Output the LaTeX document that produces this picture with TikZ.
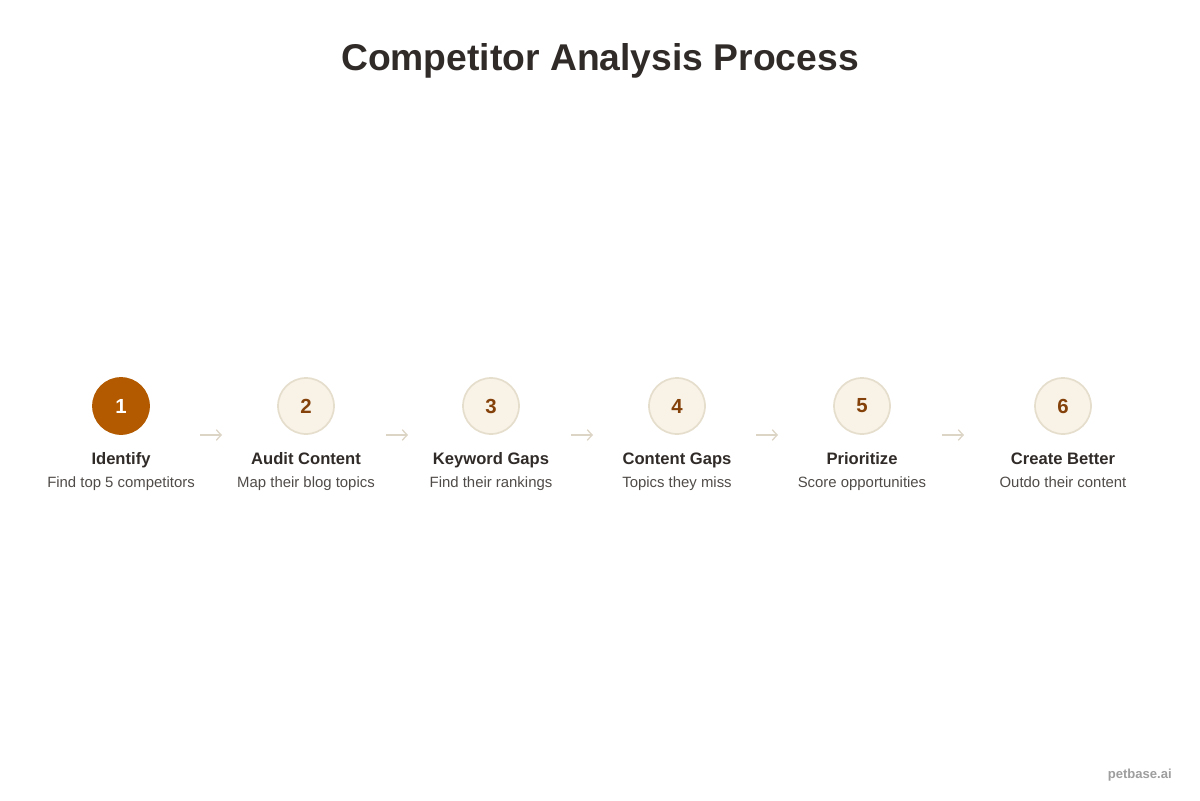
\documentclass[tikz,border=0pt]{standalone}
\usepackage{fontspec}
\setmainfont{Liberation Sans}
\usetikzlibrary{calc,arrows.meta}
\definecolor{ink}{HTML}{302B28}
\definecolor{rust}{HTML}{B35A00}
\definecolor{cream}{HTML}{F8F2E7}
\definecolor{sand}{HTML}{E6DECD}
\definecolor{brownnum}{HTML}{84420A}
\definecolor{faint}{HTML}{DCD4C4}
\tikzset{
  stepdot/.style={circle, minimum size=1.4cm, inner sep=0pt, fill=cream, draw=sand, line width=1.2pt,
    text=brownnum, font=\fontsize{14.5}{16}\selectfont\bfseries},
  firstdot/.style={stepdot, fill=rust, draw=rust, text=white},
  steplabel/.style={anchor=base, text=ink, font=\fontsize{11.8}{14}\selectfont\bfseries},
  stepdesc/.style={anchor=base, text=ink!85, font=\fontsize{10.6}{13}\selectfont},
  flow/.style={draw=faint, line width=0.9pt, -{Straight Barb[length=3.5pt,width=7.5pt]}}
}
\begin{document}
\begin{tikzpicture}[x=0.025cm, y=-0.025cm]
	\useasboundingbox (0,0) rectangle (1200,800);

	\node[anchor=base, text=ink, font=\fontsize{26.5}{30}\selectfont\bfseries] (title) at (600,71) {Competitor Analysis Process};

	\foreach \i/\x/\name/\desc in {1/121/Identify/Find top 5 competitors, 2/306/Audit Content/Map their blog topics,
	    3/491/Keyword Gaps/Find their rankings, 4/677/Content Gaps/Topics they miss,
	    5/862/Prioritize/Score opportunities, 6/1063/Create Better/Outdo their content}{
	   \node[stepdot] (s\i) at (\x,406) {\i};
	   \node[steplabel] (l\i) at (\x,464) {\name};
	   \node[stepdesc] (d\i) at (\x,487) {\desc};
	}
	\node[firstdot] at (s1) {1};

	\foreach \x [count=\j] in {211,397,582,767,953}{
	   \coordinate (a\j) at (\x-11,435);
	   \coordinate (b\j) at (\x+11,435);
	   \draw[flow] (a\j) -- (b\j);
	}

	\node[anchor=base east, inner sep=0pt, text=black!38, font=\fontsize{9.3}{11}\selectfont\bfseries] (mark) at (1172,778) {petbase.ai};
\end{tikzpicture}
\end{document}
